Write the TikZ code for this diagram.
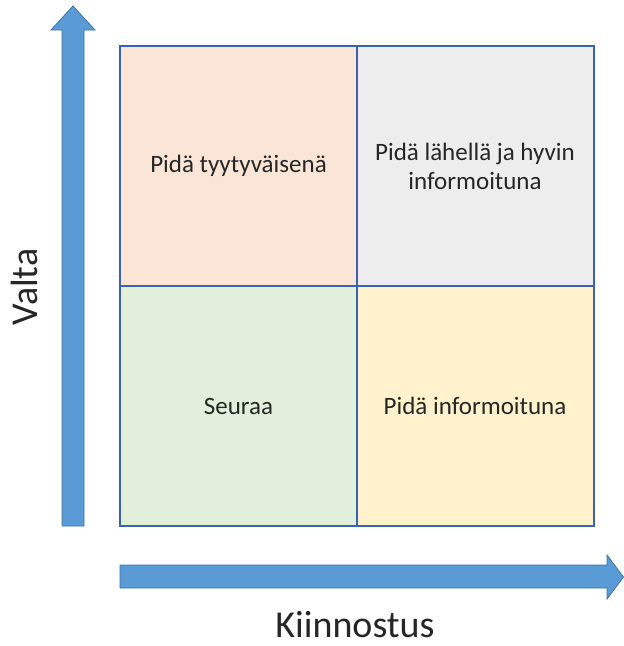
\documentclass[tikz,border=0pt]{standalone}
\usepackage{fontspec}
\setmainfont{Carlito}
\definecolor{peach}{HTML}{FBE5D6}
\definecolor{lgray}{HTML}{EDEDED}
\definecolor{lgreen}{HTML}{E2EFDA}
\definecolor{lyellow}{HTML}{FFF2CC}
\definecolor{gridblue}{HTML}{3B62AE}
\definecolor{arrowfill}{HTML}{5B9BD5}
\definecolor{arrowedge}{HTML}{41719C}
\begin{document}
\begin{tikzpicture}[x=1pt,y=-1pt,
  quad/.style={draw=gridblue, line width=2pt, minimum width=237pt, minimum height=240pt, inner sep=0pt, align=center, font=\fontsize{25}{29}\selectfont, text=black!85},
  bigarrow/.style={fill=arrowfill, draw=arrowedge, line width=0.8pt, line join=miter},
  axislabel/.style={font=\fontsize{38}{40}\selectfont, text=black!85, inner sep=0pt}]
\useasboundingbox (0,0) rectangle (624,646);
% arrows
\draw[bigarrow] (62,526) -- (62,30) -- (51,30) -- (73,6) -- (95,30) -- (84,30) -- (84,526) -- cycle;
\draw[bigarrow] (120,565) -- (607,565) -- (607,555) -- (623.5,577) -- (607,599) -- (607,588) -- (120,588) -- cycle;
% quadrants
\node[quad, fill=peach] (tl) at (238.5,166) {Pidä tyytyväisenä};
\node[quad, fill=lgray] (tr) at (475,166) {Pidä lähellä ja hyvin\\informoituna};
\node[quad, fill=lgreen] (bl) at (238.5,406) {Seuraa};
\node[quad, fill=lyellow] (br) at (475,406) {Pidä informoituna};
% axis labels
\node[axislabel, rotate=90] (valta) at (24,287) {Valta};
\node[axislabel] (kiin) at (355,625) {Kiinnostus};
\end{tikzpicture}
\end{document}
